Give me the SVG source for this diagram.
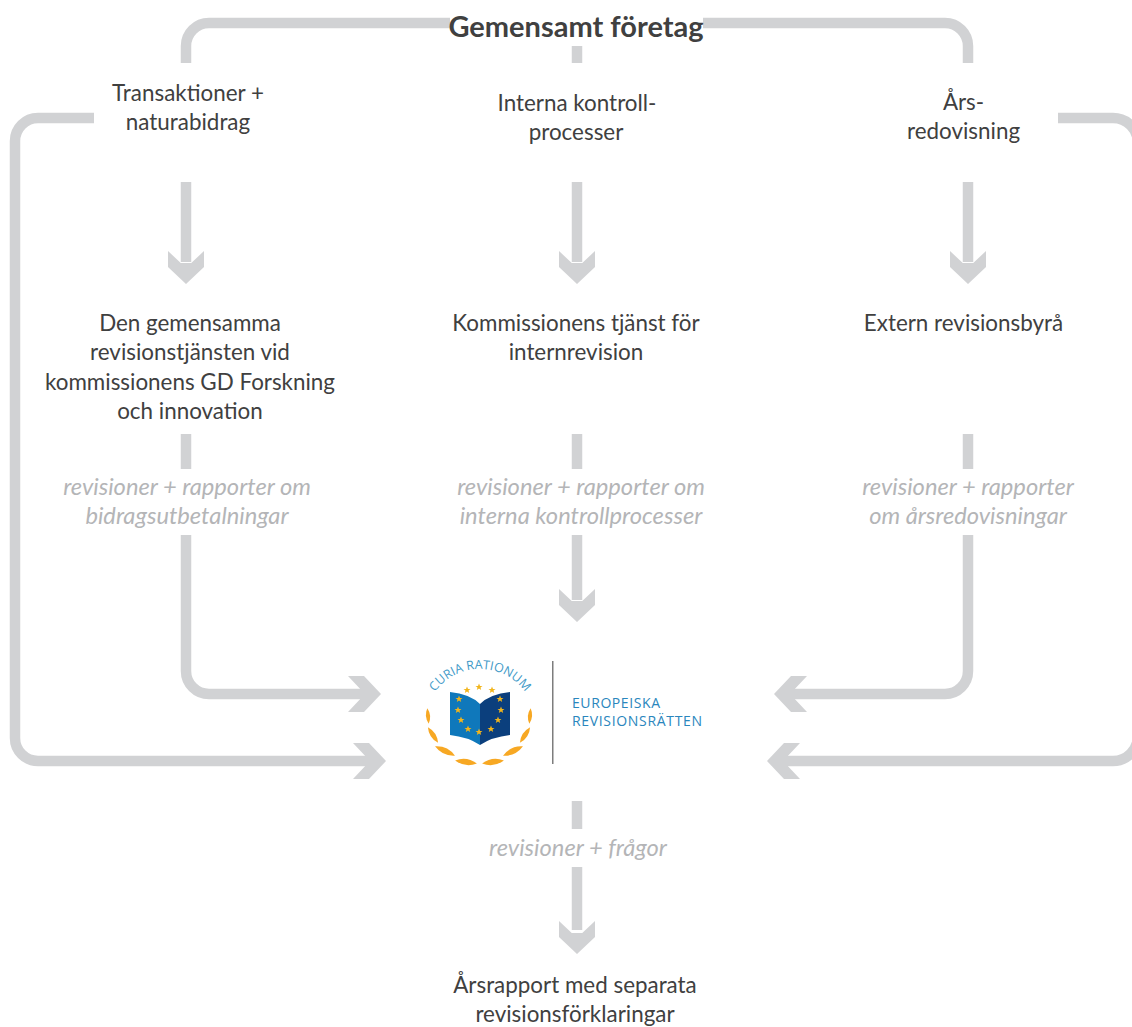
<svg xmlns="http://www.w3.org/2000/svg" width="1132" height="1027" viewBox="0 0 1132 1027">
<style>
.c{fill:none;stroke:#d1d2d4;stroke-width:10.500}
.h{fill:#d1d2d4}
text{font-family:"Lato","Open Sans",sans-serif;text-anchor:middle}
.t{font-size:22.400px;fill:#404040}
.i{font-size:23.700px;font-style:italic;fill:#b4b5b7}
.b{font-size:29px;font-weight:700;fill:#404040}
.l{font-family:"Open Sans",sans-serif;fill:#2a86bd;text-anchor:start;font-size:14px}
.s{fill:#f2b51c}
.lf{fill:#f7a823}
</style>
<defs>
<polygon id="d" class="h" points="-18,-33 -5.250,-21 5.250,-21 18,-33 18,-17 0,0 -18,-17"/>
<path id="leaf" d="M-11,0Q0,-6 11,0Q0,6 -11,0Z"/>
<polygon id="star" class="s" points="0,-3.500 1,-1.100 3.500,-1.100 1.500,.5 2.200,3 0,1.600 -2.200,3 -1.500,.5 -3.500,-1.100 -1,-1.100"/>
</defs>
<g id="connectors">
<path class="c" d="M186,63V46A23,23 0 0 1 209,23H450"/>
<path class="c" d="M703,23H945A23,23 0 0 1 968,46V63"/>
<path class="c" d="M577,46V63"/>
<path class="c" d="M94,118H38A23,23 0 0 0 15,141V738A23,23 0 0 0 38,761H375"/>
<path class="c" d="M1058,118H1113A25,25 0 0 1 1138,143V736A25,25 0 0 1 1113,761H780"/>
<path class="c" d="M186,182V262"/><use href="#d" x="186" y="284"/>
<path class="c" d="M577,182V262"/><use href="#d" x="577" y="284"/>
<path class="c" d="M968,182V262"/><use href="#d" x="968" y="284"/>
<path class="c" d="M186,434V469"/>
<path class="c" d="M577,434V469"/>
<path class="c" d="M968,434V469"/>
<path class="c" d="M186,535V671A23,23 0 0 0 209,694H362"/>
<use href="#d" transform="translate(381,694) rotate(-90)"/>
<path class="c" d="M577,535V600"/><use href="#d" x="577" y="622"/>
<path class="c" d="M968,535V671A23,23 0 0 1 945,694H792"/>
<use href="#d" transform="translate(774,694) rotate(90)"/>
<use href="#d" transform="translate(386,761) rotate(-90)"/>
<use href="#d" transform="translate(767,761) rotate(90)"/>
<path class="c" d="M577,801V829"/>
<path class="c" d="M577,867V930"/><use href="#d" x="577" y="954"/>
</g>
<g id="n-top"><text class="b" x="576" y="37">Gemensamt företag</text></g>
<g id="n-trans"><text class="t" x="188" y="101">Transaktioner +</text><text class="t" x="188" y="130">naturabidrag</text></g>
<g id="n-ik"><text class="t" x="577" y="111">Interna kontroll-</text><text class="t" x="576" y="140">processer</text></g>
<g id="n-ars"><text class="t" x="963.500" y="110">Års-</text><text class="t" x="963.500" y="139">redovisning</text></g>
<g id="n-gd"><text class="t" x="190" y="331">Den gemensamma</text><text class="t" x="190" y="360">revisionstjänsten vid</text><text class="t" x="190" y="390">kommissionens GD Forskning</text><text class="t" x="190" y="419">och innovation</text></g>
<g id="n-ias"><text class="t" x="576" y="331">Kommissionens tjänst för</text><text class="t" x="576" y="360">internrevision</text></g>
<g id="n-ext"><text class="t" x="963.500" y="331">Extern revisionsbyrå</text></g>
<g id="l1"><text class="i" x="187" y="495">revisioner + rapporter om</text><text class="i" x="187" y="524">bidragsutbetalningar</text></g>
<g id="l2"><text class="i" x="581" y="495">revisioner + rapporter om</text><text class="i" x="581" y="524">interna kontrollprocesser</text></g>
<g id="l3"><text class="i" x="968" y="495">revisioner + rapporter</text><text class="i" x="968" y="524">om årsredovisningar</text></g>
<g id="l4"><text class="i" x="578" y="856">revisioner + frågor</text></g>
<g id="n-report"><text class="t" x="575" y="993">Årsrapport med separata</text><text class="t" x="575" y="1022">revisionsförklaringar</text></g>
<g id="logo">
<path d="M450,692Q470,694 480,704V745Q468,737 450,735Z" fill="#0f78bb"/>
<path d="M510,692Q490,694 480,704V745Q492,737 510,735Z" fill="#0b3f7d"/>
<path id="arc" d="M431.500,697A56,56 0 0 1 528.500,697" fill="none"/>
<text font-size="12.500" fill="#3f9ac8" style="font-family:'Open Sans',sans-serif"><textPath href="#arc" startOffset="50%">CURIA RATIONUM</textPath></text>
<use href="#star" x="467" y="690"/><use href="#star" x="479" y="687"/><use href="#star" x="492" y="690"/>
<use href="#star" x="459" y="699"/><use href="#star" x="500" y="699"/><use href="#star" x="458" y="710"/><use href="#star" x="501" y="710"/><use href="#star" x="461" y="720"/><use href="#star" x="498" y="720"/><use href="#star" x="468" y="729"/><use href="#star" x="479" y="732"/><use href="#star" x="491" y="729"/>
<g class="lf">
<use href="#leaf" transform="translate(428,716) rotate(85) scale(.7)"/>
<use href="#leaf" transform="translate(530,716) rotate(-85) scale(.7)"/>
<use href="#leaf" transform="translate(433,735) rotate(57) scale(.85)"/>
<use href="#leaf" transform="translate(525,735) rotate(-57) scale(.85)"/>
<use href="#leaf" transform="translate(445,751) rotate(25)"/>
<use href="#leaf" transform="translate(513,751) rotate(-25)"/>
<use href="#leaf" transform="translate(466,762) rotate(8)"/>
<use href="#leaf" transform="translate(493,762) rotate(-8)"/>
</g>
<rect x="552" y="661" width="1.500" height="103" fill="#7d7d7d"/>
<text class="l" x="572" y="708" textLength="88">EUROPEISKA</text>
<text class="l" x="572" y="726" textLength="130">REVISIONSRÄTTEN</text>
</g>
</svg>
